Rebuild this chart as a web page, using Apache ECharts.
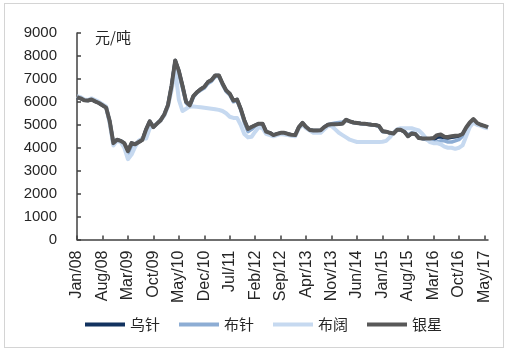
<!DOCTYPE html>
<html>
<head>
<meta charset="utf-8">
<script src="https://cdn.jsdelivr.net/npm/echarts@6/dist/echarts.min.js"></script>
<style>
html,body{margin:0;padding:0;background:#fff;}
#frame{position:absolute;left:4px;top:3px;width:500px;height:345px;border:1px solid #d4d4d4;box-sizing:border-box;}
#chart{position:absolute;left:0;top:0;width:509px;height:355px;}
</style>
</head>
<body>
<div id="frame"></div>
<div id="chart"></div>
<script>
var seriesNames = ['乌针', '布针', '布阔', '银星'];
var yTicks = [0, 1000, 2000, 3000, 4000, 5000, 6000, 7000, 8000, 9000];
var unitLabel = '元/吨';
var monthNames = ['Jan','Feb','Mar','Apr','May','Jun','Jul','Aug','Sep','Oct','Nov','Dec'];
// monthly categories Jan/08 .. Jun/17
var categories = [];
for (var y = 2008; y <= 2017; y++) {
  for (var m = 0; m < 12; m++) {
    if (y === 2017 && m > 5) break;
    categories.push(monthNames[m] + '/' + String(y).slice(2));
  }
}

var wuZhen = [
  6200,6150,6070,6060,6100,6020,5950,5850,5750,5150,
  4200,4350,4300,4200,3850,4200,4150,4250,4350,4800,
  5150,4900,5050,5200,5450,5850,6700,7800,7350,6700,
  6000,5850,6250,6420,6550,6650,6860,6950,7150,7150,
  6800,6500,6350,6050,6100,5700,5200,4820,4900,4980,
  5050,5050,4700,4650,4550,4600,4650,4650,4600,4560,
  4550,4900,5080,4900,4770,4750,4750,4760,4900,5000,
  5020,5020,5030,5050,5220,5150,5100,5080,5060,5050,
  5020,5000,4990,4950,4720,4700,4650,4620,4780,4780,
  4700,4500,4620,4600,4420,4400,4380,4350,4350,4450,
  4480,4420,4420,4450,4480,4500,4580,4850,5080,5230,
  5060,4990,4940,4890
];
var buZhen = [
  6220,6180,6100,6080,6120,6050,5980,5880,5780,5100,
  4150,4320,4300,4150,3700,4050,4150,4300,4400,4650,
  5100,4900,5050,5200,5450,5850,6650,7700,7200,6600,
  5950,5800,6200,6400,6500,6600,6800,6900,7100,7100,
  6750,6450,6300,6000,6050,5650,5100,4700,4800,4950,
  5000,5000,4650,4600,4550,4600,4620,4620,4580,4550,
  4550,4880,5050,4880,4750,4720,4720,4750,4900,5000,
  5050,5080,5100,5120,5200,5150,5100,5080,5050,5040,
  5020,5000,4980,4930,4700,4700,4650,4620,4780,4800,
  4720,4550,4650,4620,4450,4400,4350,4300,4250,4250,
  4300,4300,4250,4250,4300,4350,4500,4850,5050,5200,
  5050,4980,4920,4880
];
var buKuo = [
  6250,6200,6100,6080,6150,6080,6000,5900,5800,5050,
  4100,4300,4250,4000,3500,3700,4050,4300,4400,4400,
  4850,4950,5050,5200,5400,5800,6500,7400,6100,5600,
  5700,5800,5800,5780,5760,5740,5720,5700,5680,5650,
  5600,5500,5350,5300,5300,5000,4600,4450,4480,4700,
  4900,4850,4600,4550,4500,4550,4600,4580,4550,4520,
  4500,4850,5000,4850,4750,4650,4650,4650,4800,4950,
  4950,4800,4650,4550,4450,4350,4300,4250,4250,4250,
  4250,4250,4250,4250,4260,4300,4450,4650,4800,4850,
  4850,4850,4850,4800,4750,4600,4400,4250,4200,4200,
  4150,4050,4000,4000,3950,4000,4100,4500,4900,5100,
  5000,4950,4880,4850
];
var yinXing = [
  6200,6150,6070,6060,6100,6020,5950,5850,5750,5150,
  4200,4350,4300,4200,3850,4200,4150,4250,4350,4800,
  5150,4900,5050,5200,5450,5850,6700,7800,7350,6700,
  6000,5850,6250,6420,6550,6650,6860,6950,7150,7150,
  6800,6500,6350,6050,6100,5700,5200,4820,4900,4980,
  5050,5050,4700,4650,4550,4600,4650,4650,4600,4560,
  4550,4900,5080,4900,4770,4750,4750,4760,4900,5000,
  5020,5020,5030,5050,5220,5150,5100,5080,5060,5050,
  5020,5000,4990,4950,4720,4700,4650,4620,4780,4780,
  4700,4500,4620,4600,4420,4400,4400,4400,4420,4550,
  4580,4480,4470,4500,4520,4530,4600,4880,5100,5250,
  5080,5000,4950,4900
];

var colors = ['#12325f', '#8dadd4', '#c6d9f0', '#585858'];
var widths = [3.5, 3.5, 4, 4];
var dataSets = [wuZhen, buZhen, buKuo, yinXing];

var chart = echarts.init(document.getElementById('chart'), null, {renderer: 'canvas'});
var font = '"Liberation Sans", Arial, sans-serif';
var cjk = '"Noto Sans CJK SC", sans-serif';
var axisColor = '#404040';
var textColor = '#262626';

chart.setOption({
  animation: false,
  grid: {left: 77, right: 21, top: 33, bottom: 115.5, containLabel: false},
  legend: {
    data: seriesNames,
    left: 80, top: 312,
    icon: 'rect', itemWidth: 40, itemHeight: 4, itemGap: 19,
    textStyle: {fontSize: 15, color: textColor, fontFamily: cjk, padding: [0,0,0,0]}
  },
  graphic: [{
    type: 'text', left: 95, top: 30,
    style: {text: unitLabel, fontSize: 15, fill: textColor, fontFamily: cjk}
  }],
  xAxis: {
    type: 'category', data: categories, boundaryGap: false,
    axisLine: {show: true, lineStyle: {color: axisColor, width: 1.5}},
    axisTick: {show: true, inside: true, length: 4, interval: 6, alignWithLabel: true, lineStyle: {color: axisColor, width: 1.5}},
    axisLabel: {interval: 6, rotate: 90, margin: 11, fontSize: 16, color: textColor, fontFamily: font},
    splitLine: {show: false}
  },
  yAxis: {
    type: 'value', min: 0, max: 9000, interval: 1000,
    axisLine: {show: true, lineStyle: {color: axisColor, width: 1.5}},
    axisTick: {show: true, inside: true, length: 4, lineStyle: {color: axisColor, width: 1.5}},
    axisLabel: {margin: 20, fontSize: 15, color: textColor, fontFamily: font,
      formatter: function (v) { return yTicks.indexOf(v) >= 0 ? String(v) : ''; }},
    splitLine: {show: false}
  },
  series: seriesNames.map(function (name, k) {
    return {
      name: name, type: 'line', data: dataSets[k], showSymbol: false, symbol: 'none',
      lineStyle: {color: colors[k], width: widths[k], join: 'round'},
      itemStyle: {color: colors[k]},
      z: 2 + k
    };
  })
});
</script>
</body>
</html>
